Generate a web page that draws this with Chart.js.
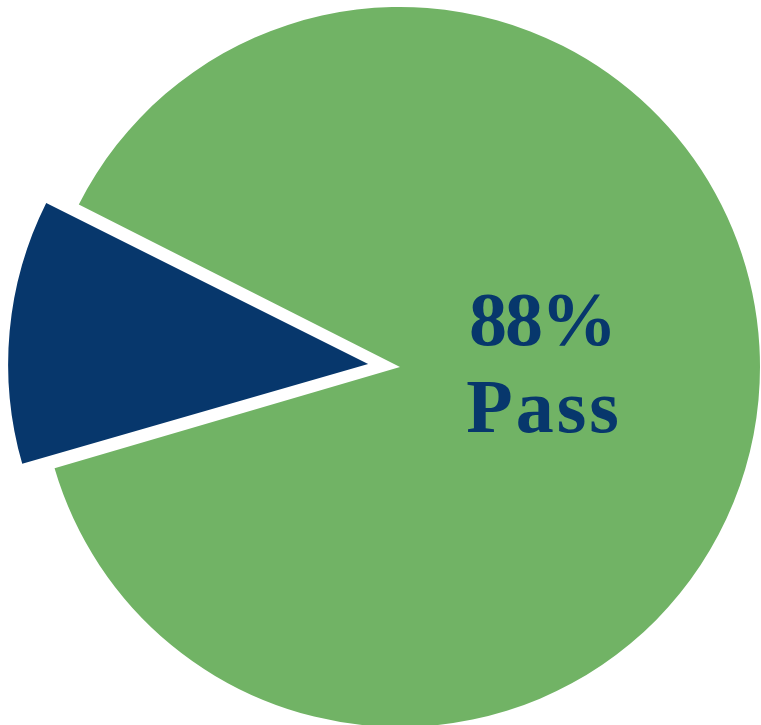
<!DOCTYPE html>
<html>
<head>
<meta charset="utf-8">
<script src="https://cdn.jsdelivr.net/npm/chart.js@4"></script>
<style>
  html, body { margin: 0; padding: 0; background: #fff; }
  #wrap { width: 761px; height: 725px; }
</style>
</head>
<body>
<div id="wrap"><canvas id="passChart"></canvas></div>
<script>
var labels = ['Pass', 'Fail'];
var values = [88, 12];
var colors = ['#71b365', '#07376c'];
var offsets = [0, 128];

var passLabel = {
  id: 'passLabel',
  beforeDatasetsDraw: function (chart) {
    // an offset arc is drawn a bit larger than the others, shrink it back to the pie radius
    var meta = chart.getDatasetMeta(0);
    meta.data.forEach(function (arc, i) {
      var grow = offsets[i] / 4 * (1 - Math.sin(Math.min(Math.PI, arc.circumference)));
      arc.outerRadius = meta.controller.outerRadius - grow;
    });
  },
  afterDraw: function (chart) {
    var ctx = chart.ctx;
    ctx.save();
    ctx.fillStyle = '#07376c';
    ctx.textAlign = 'center';
    ctx.font = 'bold 76px "Liberation Serif"';
    ctx.letterSpacing = '-2px';
    ctx.fillText(values[0] + '%', 542, 345);
    ctx.letterSpacing = '3px';
    ctx.fillText(labels[0], 544, 432);
    ctx.restore();
  }
};

var chart = new Chart(document.getElementById('passChart'), {
  type: 'pie',
  data: {
    labels: labels,
    datasets: [{
      data: values,
      backgroundColor: colors,
      borderWidth: 0,
      offset: offsets,
      radius: 360
    }]
  },
  options: {
    responsive: true,
    maintainAspectRatio: false,
    animation: false,
    rotation: 296.85,
    layout: { padding: { left: 39, top: 9, right: 0, bottom: 0 } },
    plugins: {
      legend: { display: false },
      tooltip: { enabled: false }
    }
  },
  plugins: [passLabel]
});
</script>
</body>
</html>
